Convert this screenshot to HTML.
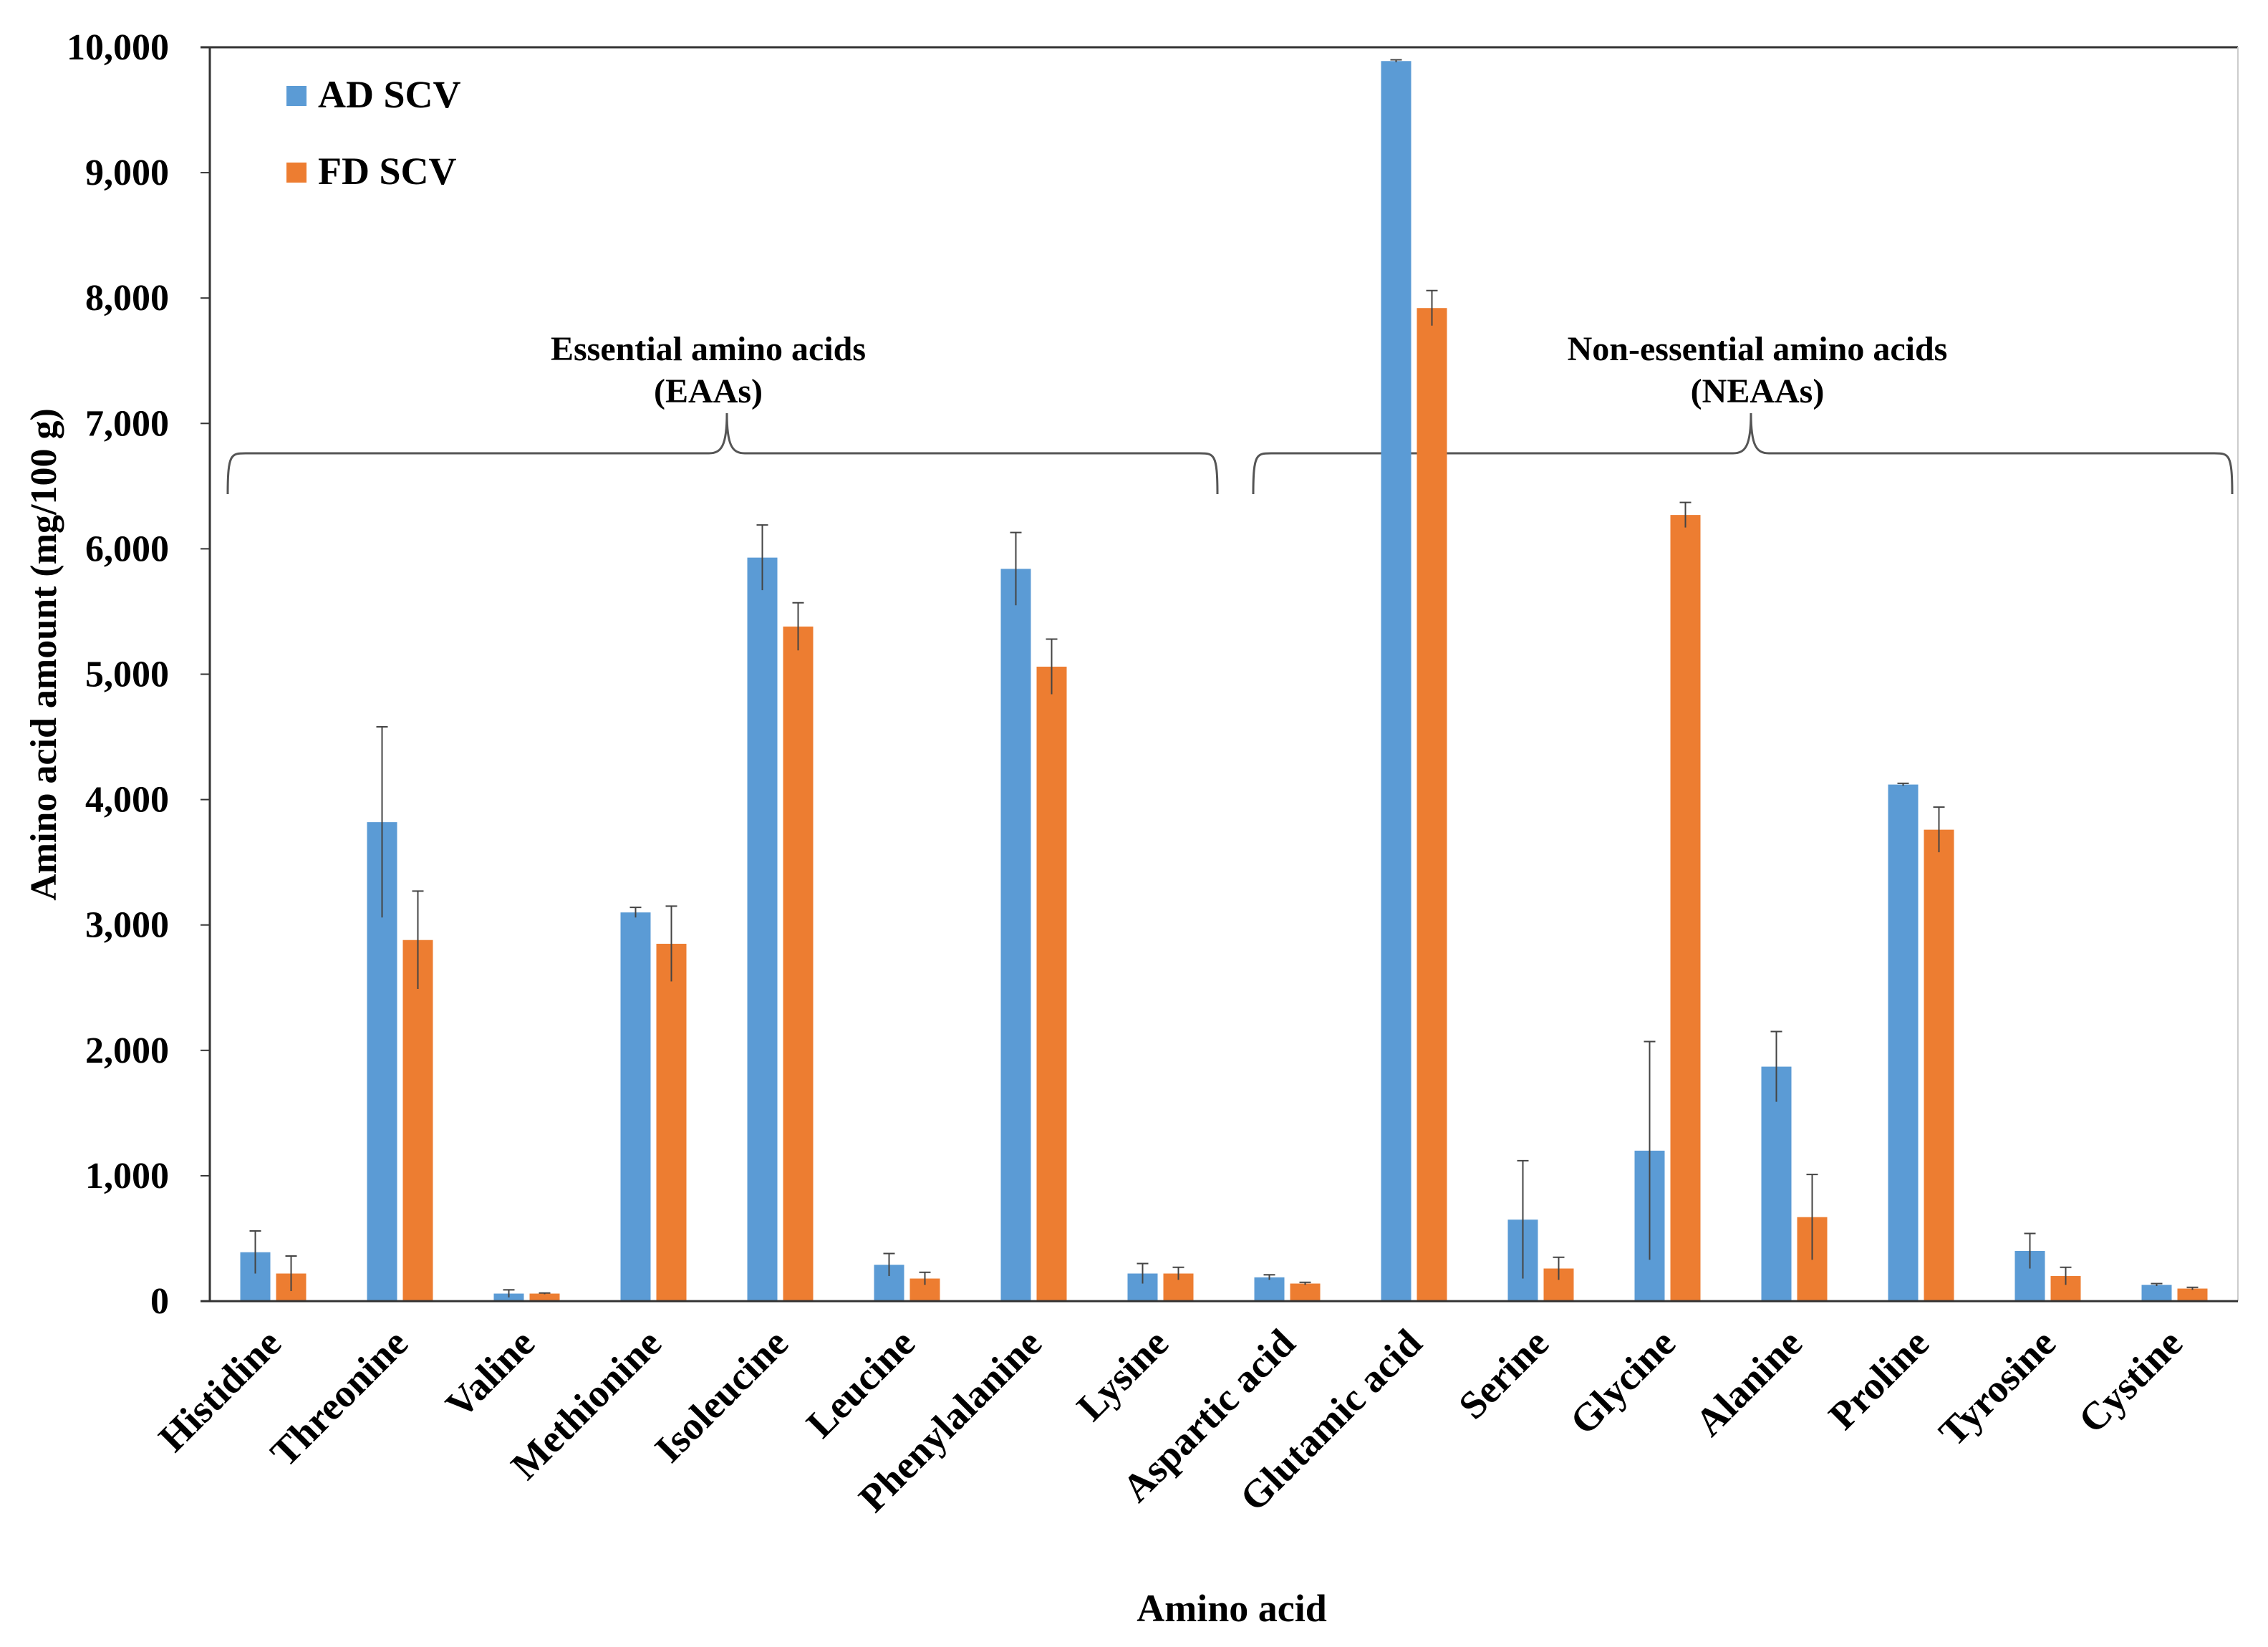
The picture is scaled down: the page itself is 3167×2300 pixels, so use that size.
<!DOCTYPE html>
<html><head><meta charset="utf-8"><style>
html,body{margin:0;padding:0;background:#fff;}
svg{display:block;font-family:"Liberation Serif",serif;font-weight:bold;}
</style></head><body>
<svg id="chart" width="3167" height="2300" viewBox="0 0 3167 2300" xmlns="http://www.w3.org/2000/svg">
<g id="grid"></g>
<g id="bars"></g>
<g id="axes"></g>
</svg>
<script>
const categories = ["Histidine","Threonine","Valine","Methionine","Isoleucine","Leucine","Phenylalanine","Lysine","Aspartic acid","Glutamic acid","Serine","Glycine","Alanine","Proline","Tyrosine","Cystine"];
const adValues = [390,3820,60,3100,5930,290,5840,220,190,9890,650,1200,1870,4120,400,130];
const adErrors = [170,760,30,40,260,90,290,80,20,10,470,870,280,10,140,10];
const fdValues = [220,2880,60,2850,5380,180,5060,220,140,7920,260,6270,670,3760,200,100];
const fdErrors = [140,390,5,300,190,50,220,50,10,140,90,100,340,180,70,10];
const yTicks = [0,1000,2000,3000,4000,5000,6000,7000,8000,9000,10000];
const yTickLabels = ["0","1,000","2,000","3,000","4,000","5,000","6,000","7,000","8,000","9,000","10,000"];

const NS="http://www.w3.org/2000/svg";
const X0=293, X1=3125, Y0=1817, YT=66, YMAX=10000;
const bandW=(X1-X0)/categories.length;
function y(v){return Y0-(v/YMAX)*(Y0-YT);}
function xc(i){return X0+bandW*(i+0.5);}
function mk(tag,attrs,parent,txt){const e=document.createElementNS(NS,tag);for(const k in attrs)e.setAttribute(k,attrs[k]);if(txt!==undefined)e.textContent=txt;parent.appendChild(e);return e;}
const axes=document.getElementById('axes'), bars=document.getElementById('bars'), grid=document.getElementById('grid');

let el=mk('line',{x1:280,y1:YT,x2:X1,y2:YT,stroke:'#333','stroke-width':3},grid);


el=mk('line',{x1:X1,y1:YT,x2:X1,y2:Y0,stroke:'#ccc','stroke-width':2},grid);



function brace(xa,xb,xm,name){
  const yl=633, yt=577, ye=690;
  const d=`M${xa},${ye} C${xa},${yl} ${xa+5},${yl} ${xa+25},${yl} L${xm-25},${yl} C${xm-8},${yl} ${xm},${yl-10} ${xm},${yt} C${xm},${yl-10} ${xm+8},${yl} ${xm+25},${yl} L${xb-25},${yl} C${xb-5},${yl} ${xb},${yl} ${xb},${ye}`;
  const p=mk('path',{d:d,fill:'none',stroke:'#555','stroke-width':3},grid);
  
  
}
brace(318,1700,1015,'eaa-brace');
brace(1750,3117,2445,'neaa-brace');
el=mk('text',{x:989,y:503,'font-size':48,'text-anchor':'middle'},grid,'Essential amino acids');


el=mk('text',{x:989,y:562,'font-size':48,'text-anchor':'middle'},grid,'(EAAs)');


el=mk('text',{x:2454,y:503,'font-size':48,'text-anchor':'middle'},grid,'Non-essential amino acids');


el=mk('text',{x:2454,y:562,'font-size':48,'text-anchor':'middle'},grid,'(NEAAs)');



const BW=42, GAP=8;
function drawBar(i,v,err,color,off,series){
  const x=xc(i)+off-BW/2;
  const r=mk('rect',{x:x,y:y(v),width:BW,height:Y0-y(v),fill:color},bars);
  
  
  const cx=x+BW/2;
  const e=mk('path',{d:`M${cx},${y(v-err)} L${cx},${y(v+err)} M${cx-8},${y(v+err)} L${cx+8},${y(v+err)}`,stroke:'#444','stroke-width':2,fill:'none'},bars);
  
  
}
categories.forEach((c,i)=>{
  drawBar(i,adValues[i],adErrors[i],'#5B9BD5',-(BW+GAP)/2,'ad');
  drawBar(i,fdValues[i],fdErrors[i],'#ED7D31',(BW+GAP)/2,'fd');
  const t=mk('text',{x:xc(i)+14,y:Y0+62,'font-size':55,'text-anchor':'end',transform:`rotate(-45 ${xc(i)+14} ${Y0+62})`},axes,c);
  
  
});

el=mk('line',{x1:X0,y1:YT,x2:X0,y2:Y0,stroke:'#333','stroke-width':3},axes);


el=mk('line',{x1:280,y1:Y0,x2:X1,y2:Y0,stroke:'#333','stroke-width':3},axes);


yTicks.forEach((v,i)=>{
  const tk=mk('line',{x1:280,y1:y(v),x2:X0,y2:y(v),stroke:'#333','stroke-width':2},axes);
  
  
  const t=mk('text',{x:236,y:y(v)+17,'font-size':52,'text-anchor':'end'},axes,yTickLabels[i]);
  
  
});
el=mk('text',{x:0,y:0,'font-size':52,'text-anchor':'middle',transform:'translate(78 914) rotate(-90)'},axes,'Amino acid amount  (mg/100 g)');


el=mk('text',{x:1720,y:2264,'font-size':54,'text-anchor':'middle'},axes,'Amino acid');



el=mk('rect',{x:400,y:120,width:28,height:28,fill:'#5B9BD5'},axes);


el=mk('text',{x:444,y:150,'font-size':54},axes,'AD SCV');


el=mk('rect',{x:400,y:227,width:28,height:28,fill:'#ED7D31'},axes);


el=mk('text',{x:444,y:257,'font-size':54},axes,'FD SCV');


</script>
</body></html>
